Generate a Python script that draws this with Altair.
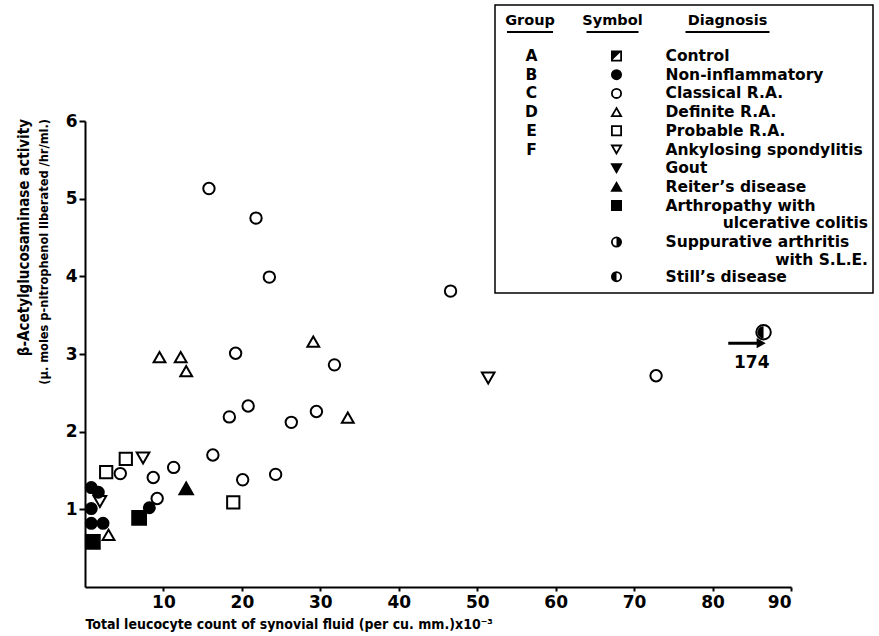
import altair as alt
import pandas as pd

FONT = "DejaVu Sans"
NARROW = "'DejaVu Sans Condensed', 'DejaVu Sans'"

# ---------------- data ----------------
classical_x = [15.8, 21.8, 23.5, 19.2, 31.8, 20.8, 18.4, 26.3, 29.5, 16.3, 11.3, 8.7, 4.5, 20.1, 24.3, 9.2, 46.6, 72.8]
classical_y = [5.13, 4.75, 3.99, 3.01, 2.86, 2.33, 2.19, 2.12, 2.26, 1.70, 1.54, 1.41, 1.46, 1.38, 1.45, 1.14, 3.81, 2.72]
definite_x = [9.5, 12.2, 12.9, 29.1, 33.5, 3.0]
definite_y = [2.96, 2.96, 2.78, 3.16, 2.18, 0.67]
probable_x = [2.7, 5.2, 18.9]
probable_y = [1.48, 1.65, 1.09]
ankylosing_x = [7.4, 51.4, 1.9]
ankylosing_y = [1.66, 2.69, 1.10]
noninfl_x = [0.8, 1.7, 0.8, 0.8, 2.3, 8.2]
noninfl_y = [1.28, 1.22, 1.01, 0.82, 0.82, 1.02]
reiter_x = [12.9]
reiter_y = [1.27]
arthropathy_x = [6.9, 1.0]
arthropathy_y = [0.89, 0.58]
still_x = [86.5]          # plotted off-scale, true value 174
still_y = [3.28]

x_ticks = [10, 20, 30, 40, 50, 60, 70, 80, 90]
y_ticks = [1, 2, 3, 4, 5, 6]

x_title = "Total leucocyte count of synovial fluid (per cu. mm.)x10\u207b\u00b3"
y_title_1 = "\u03b2-Acetylglucosaminase activity"
y_title_2 = "(\u00b5. moles p-nitrophenol liberated /hr/ml.)"

groups = ["A", "B", "C", "D", "E", "F"]
diagnoses = ["Control", "Non-inflammatory", "Classical R.A.", "Definite R.A.", "Probable R.A.",
             "Ankylosing spondylitis", "Gout", "Reiter\u2019s disease", "Arthropathy with",
             "Suppurative arthritis", "Still\u2019s disease"]
second_lines = ["ulcerative colitis", "with S.L.E."]

# symbol styles
HALF_L = "M0,-1A1,1,0,0,0,0,1Z"
HALF_R = "M0,-1A1,1,0,0,1,0,1Z"
CORNER = "M-1,-1L1,-1L-1,1Z"
base_shape = ["square", "circle", "circle", "triangle-up", "square", "triangle-down",
              "triangle-down", "triangle-up", "square", "circle", "circle"]
base_fill = ["white", "black", "white", "white", "white", "white",
             "black", "black", "black", "white", "white"]
data_size = [110, 210, 115, 85, 100, 85, 150, 150, 160, 150, 150]
overlay_diag = ["Control", "Suppurative arthritis", "Still\u2019s disease"]
overlay_path = [CORNER, HALF_R, HALF_L]

# ---------------- tables ----------------
series = [
    ("Classical R.A.", classical_x, classical_y),
    ("Definite R.A.", definite_x, definite_y),
    ("Probable R.A.", probable_x, probable_y),
    ("Ankylosing spondylitis", ankylosing_x, ankylosing_y),
    ("Non-inflammatory", noninfl_x, noninfl_y),
    ("Reiter\u2019s disease", reiter_x, reiter_y),
    ("Arthropathy with", arthropathy_x, arthropathy_y),
    ("Still\u2019s disease", still_x, still_y),
]
pts = pd.DataFrame(
    [{"diagnosis": d, "x": xv, "y": yv} for d, xs, ys in series for xv, yv in zip(xs, ys)]
)

# legend rows (row slot -> pixel offset from plot top)
ROW0, ROWH = -65.0, 18.7
diag_slot = [0, 1, 2, 3, 4, 5, 6, 7, 8, 9.95, 11.8]
second_slot = [8.93, 10.9]
leg = pd.DataFrame({"diagnosis": diagnoses, "py": [ROW0 + s * ROWH for s in diag_slot]})
leg["group"] = groups + [""] * (len(diagnoses) - len(groups))
leg2 = pd.DataFrame({"label": second_lines, "py": [ROW0 + s * ROWH for s in second_slot]})

shape_scale = alt.Scale(domain=diagnoses, range=base_shape)
fill_scale = alt.Scale(domain=diagnoses, range=base_fill)
size_scale = alt.Scale(domain=diagnoses, range=data_size)
over_scale = alt.Scale(domain=overlay_diag, range=overlay_path)

W, H = 706, 466

x_enc = alt.X("x:Q", scale=alt.Scale(domain=[0, 90], nice=False),
              axis=alt.Axis(values=x_ticks, grid=False, tickSize=4, tickWidth=2, domainWidth=2,
                            domainColor="black", tickColor="black", labelColor="black",
                            labelFont=FONT, labelFontSize=17, labelFontWeight="bold", labelPadding=3,
                            title=x_title,
                            titleFont=NARROW, titleFontSize=14, titleFontWeight="bold", titleColor="black",
                            titleAnchor="start", titleAlign="left", titleX=0, titleY=37,
                            titleBaseline="middle"))
y_enc = alt.Y("y:Q", scale=alt.Scale(domain=[0, 6], nice=False),
              axis=alt.Axis(values=y_ticks, format="d", grid=False, tickSize=6, tickWidth=2, domainWidth=2,
                            domainColor="black", tickColor="black", labelColor="black",
                            labelFont=FONT, labelFontSize=17, labelFontWeight="bold", labelPadding=2,
                            title=None))

base_pts = alt.Chart(pts).mark_point(filled=True, stroke="black", strokeWidth=2, opacity=1).encode(
    x=x_enc, y=y_enc,
    shape=alt.Shape("diagnosis:N", scale=shape_scale, legend=None),
    fill=alt.Fill("diagnosis:N", scale=fill_scale, legend=None),
    size=alt.Size("diagnosis:N", scale=size_scale, legend=None),
)
over_pts = alt.Chart(pts).transform_filter(
    alt.FieldOneOfPredicate(field="diagnosis", oneOf=overlay_diag)
).mark_point(filled=True, fill="black", strokeWidth=0, opacity=1, size=150).encode(
    x="x:Q", y="y:Q",
    shape=alt.Shape("diagnosis:N", scale=over_scale, legend=None),
)

# y-axis title: two rotated lines of different size
ytitle_df = pd.DataFrame({"label": [y_title_1]})
ytitle1 = alt.Chart(ytitle_df).mark_text(font=NARROW, fontSize=15, fontWeight="bold", color="black",
                                         angle=270, align="right", baseline="middle").encode(
    x=alt.value(-61), y=alt.value(-2), text="label:N")
ytitle_df2 = pd.DataFrame({"label": [y_title_2]})
ytitle2 = alt.Chart(ytitle_df2).mark_text(font=NARROW, fontSize=12.7, fontWeight="bold", color="black",
                                          angle=270, align="right", baseline="middle").encode(
    x=alt.value(-41), y=alt.value(-2), text="label:N")

# arrow with "174" annotation
arrow_df = pd.DataFrame({"x": [82.0], "x2": [86.2], "y": [3.14], "label": ["174"], "ty": [2.89], "tx": [85.0]})
arrow_line = alt.Chart(arrow_df).mark_rule(strokeWidth=3, color="black").encode(x="x:Q", x2="x2:Q", y="y:Q")
arrow_head = alt.Chart(arrow_df).mark_point(shape="triangle-right", filled=True, fill="black",
                                            size=110, opacity=1).encode(x="x2:Q", y="y:Q")
arrow_txt = alt.Chart(arrow_df).mark_text(font=FONT, fontSize=17, fontWeight="bold", color="black").encode(
    x="tx:Q", y="ty:Q", text="label:N")

# ---------------- legend box ----------------
BX0, BX1, BY0, BY1 = 410, 788, -116, 172
box = alt.Chart(pd.DataFrame({"a": [0]})).mark_rect(fill="white", stroke="black", strokeWidth=1.5).encode(
    x=alt.value(BX0), x2=alt.value(BX1), y=alt.value(BY0), y2=alt.value(BY1))

headers = pd.DataFrame({"label": ["Group", "Symbol", "Diagnosis"],
                        "cx": [445, 527.5, 642.5], "w": [46, 52, 84]})
headers["x0"] = headers["cx"] - headers["w"] / 2
headers["x1"] = headers["cx"] + headers["w"] / 2
head_txt = alt.Chart(headers).mark_text(font=FONT, fontSize=14.5, fontWeight="bold", color="black",
                                        baseline="middle").encode(
    x=alt.X("cx:Q", scale=None), y=alt.value(-100), text="label:N")
head_rule = alt.Chart(headers).mark_rule(strokeWidth=2, color="black").encode(
    x=alt.X("x0:Q", scale=None), x2="x1:Q", y=alt.value(-89))

LFS = 15.5
grp_txt = alt.Chart(leg).mark_text(font=FONT, fontSize=LFS, fontWeight="bold", color="black",
                                   baseline="middle").encode(
    x=alt.value(446.5), y=alt.Y("py:Q", scale=None), text="group:N")
diag_txt = alt.Chart(leg).mark_text(font=FONT, fontSize=LFS, fontWeight="bold", color="black",
                                    baseline="middle", align="left").encode(
    x=alt.value(580.5), y=alt.Y("py:Q", scale=None), text="diagnosis:N")
diag2_txt = alt.Chart(leg2).mark_text(font=FONT, fontSize=LFS, fontWeight="bold", color="black",
                                      baseline="middle", align="right").encode(
    x=alt.value(783), y=alt.Y("py:Q", scale=None), text="label:N")
leg_sym = alt.Chart(leg).mark_point(filled=True, stroke="black", strokeWidth=1.8, opacity=1, size=85).encode(
    x=alt.value(531.5), y=alt.Y("py:Q", scale=None),
    shape=alt.Shape("diagnosis:N", scale=shape_scale, legend=None),
    fill=alt.Fill("diagnosis:N", scale=fill_scale, legend=None),
)
leg_over = alt.Chart(leg).transform_filter(
    alt.FieldOneOfPredicate(field="diagnosis", oneOf=overlay_diag)
).mark_point(filled=True, fill="black", strokeWidth=0, opacity=1, size=85).encode(
    x=alt.value(531.5), y=alt.Y("py:Q", scale=None),
    shape=alt.Shape("diagnosis:N", scale=over_scale, legend=None),
)

chart = alt.layer(
    base_pts, over_pts, ytitle1, ytitle2, arrow_line, arrow_head, arrow_txt,
    box, head_txt, head_rule, grp_txt, diag_txt, diag2_txt, leg_sym, leg_over,
).resolve_scale(
    shape="independent"
).properties(
    width=W, height=H,
    autosize=alt.AutoSizeParams(type="none"),
    padding={"left": 85, "top": 121, "right": 88, "bottom": 49},
    background="white",
).configure_view(stroke=None)

chart.save("out.html", embed_options={"renderer": "svg", "actions": False})
